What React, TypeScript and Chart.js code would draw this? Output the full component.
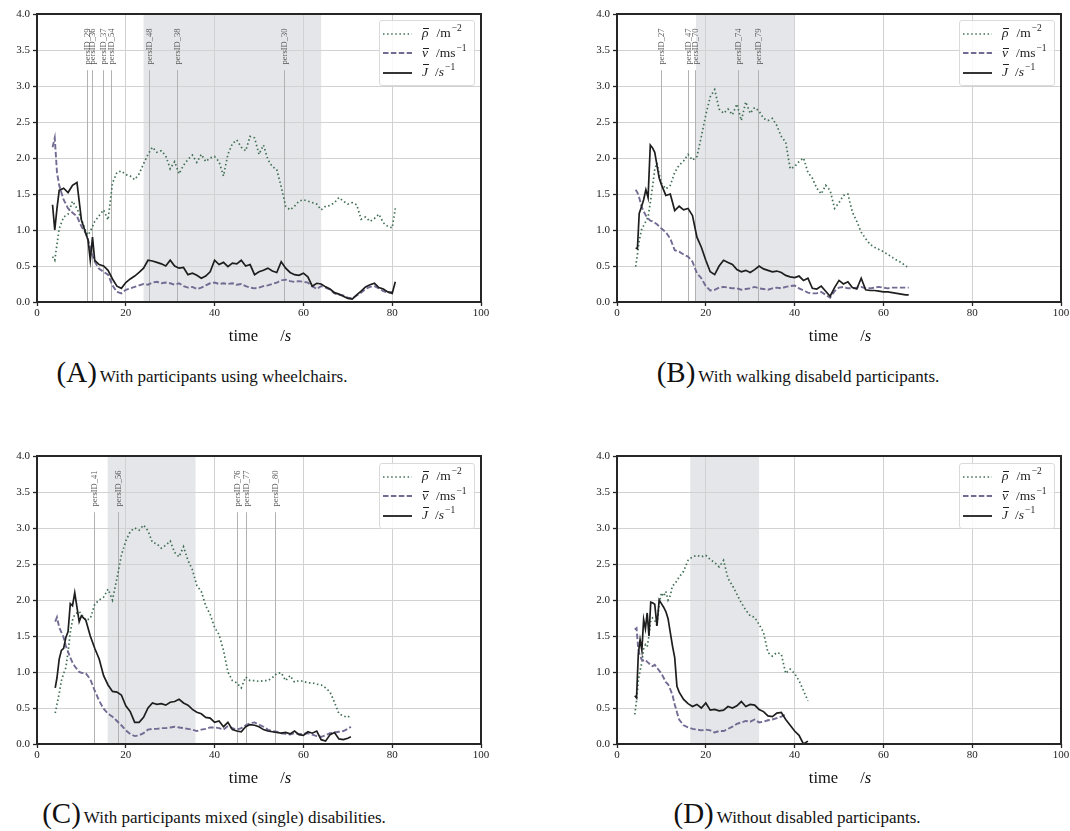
import React, { useEffect, useRef } from "react";
import Chart from "chart.js/auto";

// ---------- Panel A: participants using wheelchairs ----------
const timesA = [
  3.5, 4, 4.5, 5, 6, 7, 8, 9, 10, 11, 11.5, 12, 12.5,
  13, 14, 15, 16, 17, 18, 19, 20, 21, 22,
  23, 24, 25, 26, 27, 28, 29, 30, 31, 32,
  33, 34, 35, 36, 37, 38, 39, 40, 41, 42,
  43, 44, 45, 46, 47, 48, 49, 50, 51, 52,
  53, 54, 55, 56, 57, 58, 59, 60, 61, 62,
  63, 64, 65, 66, 67, 68, 69, 70, 71, 72,
  73, 74, 75, 76, 77, 78, 79, 80, 80.7,
];
const rhoA = [
  0.63, 0.58, 0.8, 1.02, 1.18, 1.22, 1.4, 1.3, 1.15, 0.98, 0.93, 0.98, 1.05,
  1.12, 1.2, 1.28, 1.14, 1.65, 1.8, 1.82, 1.77, 1.75, 1.7,
  1.78, 1.92, 2.05, 2.15, 2.08, 2.1, 2.03, 1.85, 1.95, 1.78,
  1.9, 1.98, 2.04, 1.94, 2.05, 1.95, 2.0, 2.02, 1.95, 1.75,
  2.05, 2.2, 2.25, 2.15, 2.1, 2.3, 2.28, 2.05, 2.18, 1.98,
  1.88, 1.84, 1.6, 1.33, 1.28, 1.33, 1.4, 1.42, 1.4, 1.38,
  1.36, 1.28, 1.33, 1.34, 1.38, 1.45, 1.4, 1.36, 1.38, 1.35,
  1.15, 1.18, 1.12, 1.16, 1.22, 1.1, 1.05, 1.03, 1.3,
];
const velA = [
  2.15, 2.28, 1.8, 1.62, 1.42, 1.3, 1.24, 1.19, 1.05, 0.95, 0.86, 0.75, 0.65,
  0.56, 0.46, 0.42, 0.38, 0.23, 0.14, 0.12, 0.17, 0.19, 0.21,
  0.23, 0.25, 0.24, 0.27, 0.28, 0.26, 0.27, 0.26, 0.24, 0.26,
  0.22, 0.2, 0.21, 0.18, 0.2, 0.23, 0.26, 0.27, 0.25, 0.26,
  0.25, 0.26, 0.24, 0.25, 0.22, 0.2, 0.19, 0.2, 0.22, 0.23,
  0.25, 0.27, 0.3, 0.31, 0.29, 0.28, 0.29, 0.28, 0.27, 0.22,
  0.18, 0.22, 0.2, 0.17, 0.12, 0.1, 0.09, 0.06, 0.05, 0.09,
  0.13, 0.18, 0.21, 0.22, 0.19, 0.15, 0.13, 0.14, null,
];
const fluxA = [
  1.35, 1.0, 1.3, 1.55, 1.58, 1.52, 1.62, 1.66, 1.14, 0.95, 0.86, 0.58, 0.9,
  0.58, 0.52, 0.5, 0.44, 0.32, 0.22, 0.19, 0.27, 0.32, 0.36,
  0.41, 0.47, 0.58, 0.57, 0.55, 0.53, 0.5, 0.58, 0.5, 0.47,
  0.48, 0.38, 0.4, 0.37, 0.33, 0.36, 0.42, 0.58, 0.52, 0.55,
  0.49, 0.54, 0.53, 0.58, 0.5, 0.52, 0.38, 0.42, 0.44, 0.47,
  0.43, 0.41, 0.56, 0.47, 0.41, 0.38, 0.37, 0.4, 0.35, 0.22,
  0.26, 0.25, 0.21, 0.18, 0.13, 0.11, 0.08, 0.05, 0.04, 0.1,
  0.15, 0.21, 0.24, 0.26, 0.2, 0.18, 0.14, 0.12, 0.28,
];
const shadeA = [24, 64];
const markTimesA = [11.2, 12.3, 14.8, 16.6, 25.3, 31.6, 55.7];
const markLabelsA = ["persID_29", "persID_36", "persID_37", "persID_54", "persID_48", "persID_38", "persID_30"];

// ---------- Panel B: walking disabled participants ----------
const timesB = [
  4.2, 4.6, 5, 5.5, 6, 6.5, 7, 7.5, 8, 8.5, 9, 9.5, 10,
  11, 12, 13, 14, 15, 16, 17, 18, 19, 20,
  21, 22, 23, 24, 25, 26, 27, 28, 29, 30,
  31, 32, 33, 34, 35, 36, 37, 38, 39, 40,
  41, 42, 43, 44, 45, 46, 47, 48, 49, 50,
  51, 52, 53, 54, 55, 56, 57, 58, 59, 60,
  61, 62, 63, 64, 65, 65.7,
];
const rhoB = [
  0.49, 0.66, 0.85, 1.0, 1.06, 1.12, 1.18, 1.38, 1.6, 1.84, 1.93, 1.78, 1.65,
  1.57, 1.62, 1.8, 1.9, 1.96, 2.05, 1.97, 2.02, 2.3, 2.6,
  2.85, 2.95, 2.68, 2.62, 2.68, 2.6, 2.75, 2.52, 2.78, 2.62,
  2.7, 2.65, 2.55, 2.52, 2.55, 2.45, 2.3, 2.22, 1.85, 1.88,
  1.95, 2.0, 1.8, 1.72, 1.58, 1.5, 1.62, 1.55, 1.3, 1.38,
  1.48, 1.5, 1.25, 1.12, 0.97, 0.88, 0.8, 0.76, 0.73, 0.7,
  0.66, 0.62, 0.58, 0.55, 0.5, 0.48,
];
const velB = [
  1.56, 1.52, 1.45, 1.33, 1.26, 1.2, 1.16, 1.13, 1.12, 1.1, 1.08, 1.05, 1.02,
  0.97, 0.88, 0.72, 0.7, 0.66, 0.63, 0.56, 0.4, 0.33, 0.22,
  0.16, 0.17, 0.2, 0.21, 0.2, 0.19, 0.19, 0.17, 0.18, 0.19,
  0.21, 0.19, 0.18, 0.17, 0.19, 0.2, 0.19, 0.21, 0.22, 0.23,
  0.19, 0.16, 0.13, 0.12, 0.12, 0.14, 0.1, 0.06, 0.15, 0.2,
  0.21, 0.19, 0.19, 0.2, 0.21, 0.19, 0.19, 0.2, 0.21, 0.2,
  0.19, 0.2, 0.2, 0.2, 0.2, 0.2,
];
const fluxB = [
  0.75, 0.74, 1.23, 1.32, 1.42, 1.56, 1.45, 2.18, 2.14, 2.08, 1.9, 1.72, 1.63,
  1.48, 1.5, 1.27, 1.33, 1.28, 1.3, 1.2, 0.9, 0.76, 0.58,
  0.42, 0.38, 0.5, 0.58, 0.55, 0.52, 0.45, 0.42, 0.44, 0.41,
  0.45, 0.5, 0.46, 0.44, 0.42, 0.43, 0.41, 0.37, 0.35, 0.34,
  0.36, 0.3, 0.33, 0.19, 0.18, 0.22, 0.15, 0.08, 0.2, 0.3,
  0.25, 0.28, 0.2, 0.18, 0.33, 0.17, 0.16, 0.16, 0.15, 0.14,
  0.14, 0.13, 0.12, 0.11, 0.1, 0.1,
];
const shadeB = [17.8, 40];
const markTimesB = [9.8, 16.1, 17.6, 27.3, 31.8];
const markLabelsB = ["persID_27", "persID_47", "persID_70", "persID_74", "persID_79"];

// ---------- Panel C: mixed (single) disabilities ----------
const timesC = [
  4.1, 4.5, 5, 5.5, 6, 6.5, 7, 7.5, 8, 8.5, 9, 9.5, 10,
  11, 12, 13, 14, 15, 16, 17, 18, 19, 20,
  21, 22, 23, 24, 25, 26, 27, 28, 29, 30,
  31, 32, 33, 34, 35, 36, 37, 38, 39, 40,
  41, 42, 43, 44, 45, 46, 47, 48, 49, 50,
  51, 52, 53, 54, 55, 56, 57, 58, 59, 60,
  61, 62, 63, 64, 65, 66, 67, 68, 69, 70, 70.7,
];
const rhoC = [
  0.43, 0.55, 0.7, 0.88, 0.98, 1.06, 1.28, 1.55, 1.72, 1.8, 1.82, 1.84, 1.8,
  1.72, 1.74, 1.94, 2.0, 2.04, 2.15, 2.0, 2.3, 2.62, 2.82,
  2.95, 3.0, 2.97, 3.04, 2.96, 2.8, 2.78, 2.72, 2.76, 2.82,
  2.66, 2.6, 2.74, 2.55, 2.42, 2.2, 2.12, 1.92, 1.8, 1.62,
  1.52, 1.3, 1.0, 0.88, 0.85, 0.78, 0.93, 0.88, 0.88, 0.87,
  0.88, 0.88, 0.92, 0.98, 0.99, 0.88, 0.95, 0.86, 0.88, 0.87,
  0.85, 0.85, 0.83, 0.82, 0.78, 0.72, 0.58, 0.42, 0.39, 0.37, 0.41,
];
const velC = [
  1.7, 1.76, 1.62, 1.55, 1.48, 1.36, 1.28, 1.2, 1.13, 1.08, 1.04, 1.0, 0.99,
  0.98, 0.9, 0.74, 0.6, 0.49, 0.42, 0.38, 0.32, 0.26, 0.19,
  0.14, 0.11, 0.12, 0.15, 0.2, 0.21, 0.21, 0.22, 0.22, 0.23,
  0.24, 0.23, 0.22, 0.21, 0.2, 0.18, 0.2, 0.21, 0.23, 0.23,
  0.22, 0.2, 0.25, 0.22, 0.2, 0.22, 0.26, 0.29, 0.3, 0.27,
  0.24, 0.2, 0.18, 0.17, 0.15, 0.14, 0.13, 0.15, 0.14, 0.14,
  0.15, 0.13, 0.11, 0.1, 0.12, 0.15, 0.16, 0.17, 0.18, 0.21, 0.24,
];
const fluxC = [
  0.78, 0.92, 1.18, 1.3, 1.33, 1.48, 1.56, 1.95, 1.92, 2.1, 1.9, 1.7, 1.78,
  1.72, 1.5, 1.33, 1.18, 0.95, 0.82, 0.73, 0.72, 0.68, 0.53,
  0.45, 0.3, 0.3, 0.37, 0.5, 0.57, 0.55, 0.56, 0.54, 0.58,
  0.59, 0.62, 0.57, 0.54, 0.48, 0.44, 0.42, 0.37, 0.36, 0.3,
  0.32, 0.24, 0.3, 0.2, 0.18, 0.17, 0.24, 0.27, 0.26, 0.24,
  0.2, 0.18, 0.17, 0.16, 0.15, 0.16, 0.14, 0.18, 0.13, 0.12,
  0.17, 0.15, 0.18, 0.06, 0.04, 0.13, 0.16, 0.07, 0.06, 0.08, 0.1,
];
const shadeC = [15.9, 35.7];
const markTimesC = [12.9, 18.3, 45.1, 47.1, 53.7];
const markLabelsC = ["persID_41", "persID_56", "persID_76", "persID_77", "persID_80"];

// ---------- Panel D: without disabled participants ----------
const timesD = [
  4, 4.4, 4.8, 5.2, 5.6, 6, 6.4, 6.8, 7.2, 7.6, 8,
  8.5, 9, 9.5, 10, 10.5, 11, 11.5, 12, 12.5, 13, 13.5, 14,
  15, 16, 17, 18, 19, 20, 21, 22, 23, 24,
  25, 26, 27, 28, 29, 30, 31, 32, 33, 34,
  35, 36, 37, 38, 39, 40, 41, 42, 43,
];
const rhoD = [
  0.41, 0.6, 0.88, 1.02, 1.13, 1.32, 1.38, 1.35, 1.5, 1.72, 1.75,
  1.72, 1.64, 1.95, 2.1, 2.05, 2.12, 2.0, 2.06, 2.2, 2.22, 2.27, 2.32,
  2.4, 2.55, 2.6, 2.62, 2.6, 2.62, 2.56, 2.52, 2.46, 2.55,
  2.3, 2.2, 2.08, 1.96, 1.86, 1.78, 1.76, 1.66, 1.55, 1.27,
  1.22, 1.27, 1.25, 0.98, 1.04, 0.98, 0.88, 0.74, 0.6,
];
const velD = [
  1.59, 1.61, 1.31, 1.22, 1.17, 1.16, 1.17, 1.14, 1.12, 1.09, 1.08,
  1.1, 1.06, 1.02, 0.98, 0.92, 0.86, 0.83, 0.76, 0.68, 0.55, 0.44, 0.34,
  0.26, 0.23, 0.21, 0.2, 0.19, 0.2, 0.19, 0.16, 0.18, 0.18,
  0.21, 0.24, 0.28, 0.3, 0.32, 0.31, 0.34, 0.3, 0.31, 0.33,
  0.34, 0.36, 0.38, 0.41, null, null, null, null, null,
];
const fluxD = [
  0.67, 0.64, 1.25, 1.45, 1.3, 1.73, 1.6, 1.82, 1.5, 1.97, 1.96,
  1.94, 1.64, 2.0, 1.95, 1.9, 1.84, 1.74, 1.55, 1.36, 1.2, 0.8, 0.72,
  0.62, 0.56, 0.52, 0.55, 0.5, 0.57, 0.47, 0.48, 0.46, 0.47,
  0.52, 0.5, 0.53, 0.59, 0.52, 0.55, 0.54, 0.48, 0.45, 0.39,
  0.38, 0.43, 0.44, 0.34, 0.26, 0.18, 0.12, 0.0, 0.04,
];
const shadeD = [16.5, 32];
const markTimesD: number[] = [];
const markLabelsD: string[] = [];

// Axis ticks
const xTickStep = 20;
const yTickStep = 0.5;
const xRange = [0, 100];
const yRange = [0, 4];

const SERIF = '"Liberation Serif", "DejaVu Serif", serif';
const RHO_COLOR = "#3f6f54";
const V_COLOR = "#736b93";
const J_COLOR = "#1e1e1e";
const GRID = "#d2d2d2";

const CANVAS_W = 482;
const CANVAS_H = 330;

type Vals = (number | null)[];

function toPoints(times: number[], vals: Vals) {
  return times.map((t, i) => ({ x: t, y: vals[i] }));
}

type PanelProps = {
  left: number;
  top: number;
  times: number[];
  rho: Vals;
  vel: Vals;
  flux: Vals;
  shade: number[];
  markTimes: number[];
  markLabels: string[];
};

function PanelChart(p: PanelProps) {
  const ref = useRef<HTMLCanvasElement>(null);

  useEffect(() => {
    if (!ref.current) return;

    const decor = {
      id: "panelDecor",
      beforeDraw(chart: any) {
        const { ctx, chartArea: a, scales } = chart;
        const x0 = scales.x.getPixelForValue(p.shade[0]);
        const x1 = scales.x.getPixelForValue(p.shade[1]);
        ctx.save();
        ctx.fillStyle = "#e5e6e9";
        ctx.fillRect(x0, a.top, x1 - x0, a.bottom - a.top);
        ctx.restore();
      },
      beforeDatasetsDraw(chart: any) {
        const { ctx, chartArea: a, scales } = chart;
        const xs = scales.x;
        const ys = scales.y;
        ctx.save();
        ctx.strokeStyle = "#b2b2b2";
        ctx.lineWidth = 1;
        ctx.fillStyle = "#555";
        ctx.font = `8.5px ${SERIF}`;
        p.markTimes.forEach((t, i) => {
          const px = Math.round(xs.getPixelForValue(t)) + 0.5;
          ctx.beginPath();
          ctx.moveTo(px, ys.getPixelForValue(3.22));
          ctx.lineTo(px, a.bottom);
          ctx.stroke();
          ctx.save();
          ctx.translate(px, ys.getPixelForValue(3.3));
          ctx.rotate(-Math.PI / 2);
          ctx.textAlign = "left";
          ctx.textBaseline = "middle";
          ctx.fillText(p.markLabels[i], 0, 0);
          ctx.restore();
        });
        ctx.restore();
      },
      afterDatasetsDraw(chart: any) {
        const { ctx, chartArea: a } = chart;
        ctx.save();
        ctx.strokeStyle = "#262626";
        ctx.lineWidth = 2;
        ctx.strokeRect(a.left, a.top, a.right - a.left, a.bottom - a.top);
        ctx.restore();
      },
    };

    const tickFont = { family: SERIF, size: 11 };

    const chart = new Chart(ref.current, {
      type: "line",
      data: {
        datasets: [
          {
            label: "rho",
            data: toPoints(p.times, p.rho),
            borderColor: RHO_COLOR,
            borderWidth: 1.7,
            borderDash: [1.5, 2.6],
            borderCapStyle: "butt",
            pointRadius: 0,
            tension: 0,
            order: 3,
          },
          {
            label: "v",
            data: toPoints(p.times, p.vel),
            borderColor: V_COLOR,
            borderWidth: 1.9,
            borderDash: [5.5, 2.4],
            pointRadius: 0,
            tension: 0,
            order: 2,
          },
          {
            label: "J",
            data: toPoints(p.times, p.flux),
            borderColor: J_COLOR,
            borderWidth: 1.7,
            pointRadius: 0,
            tension: 0,
            order: 1,
          },
        ],
      },
      options: {
        animation: false,
        responsive: false,
        maintainAspectRatio: false,
        layout: { padding: { top: 6, right: 9, left: 0, bottom: 0 } },
        plugins: {
          legend: { display: false },
          tooltip: { enabled: false },
        },
        scales: {
          x: {
            type: "linear",
            min: xRange[0],
            max: xRange[1],
            ticks: {
              stepSize: xTickStep,
              font: tickFont,
              color: "#222",
              padding: 1,
              maxRotation: 0,
            },
            grid: {
              color: GRID,
              lineWidth: 1,
              drawTicks: true,
              tickLength: 4,
              tickColor: "#262626",
              tickWidth: 1.3,
            },
            border: { display: false },
            afterFit: (s: any) => {
              s.height = 36;
              s.paddingLeft = 0;
              s.paddingRight = 0;
            },
          },
          y: {
            min: yRange[0],
            max: yRange[1],
            ticks: {
              stepSize: yTickStep,
              font: tickFont,
              color: "#222",
              padding: 3,
              callback: (v: any) => Number(v).toFixed(1),
            },
            grid: {
              color: GRID,
              lineWidth: 1,
              drawTicks: true,
              tickLength: 4,
              tickColor: "#262626",
              tickWidth: 1.3,
            },
            border: { display: false },
            afterFit: (s: any) => {
              s.width = 29;
              s.paddingTop = 0;
              s.paddingBottom = 0;
            },
          },
        },
      },
      plugins: [decor],
    } as any);

    return () => chart.destroy();
  }, []);

  return (
    <canvas
      ref={ref}
      width={CANVAS_W}
      height={CANVAS_H}
      style={{ position: "absolute", left: p.left, top: p.top, width: CANVAS_W, height: CANVAS_H }}
    />
  );
}

const supStyle: React.CSSProperties = { fontSize: 9.5, position: "relative", top: -6, marginLeft: 1 };

// Italic symbol with a mean bar drawn above it
function Barred({ ch, barTop, barLeft }: { ch: string; barTop: number; barLeft: number }) {
  return (
    <span style={{ position: "relative", display: "inline-block" }}>
      <i>{ch}</i>
      <span
        style={{
          position: "absolute",
          left: barLeft,
          right: -1,
          top: barTop,
          height: 0,
          borderTop: "1px solid #222",
        }}
      />
    </span>
  );
}

function Legend({ left, top }: { left: number; top: number }) {
  const rows = [
    {
      color: RHO_COLOR,
      width: 1.7,
      dash: "1.5 2.6",
      label: (
        <>
          <Barred ch="ρ" barTop={3} barLeft={1} />
          <span style={{ marginLeft: 8 }}>/m</span>
          <span style={supStyle}>−2</span>
        </>
      ),
    },
    {
      color: V_COLOR,
      width: 2,
      dash: "5.5 2.4",
      label: (
        <>
          <Barred ch="v" barTop={3} barLeft={1} />
          <span style={{ marginLeft: 8 }}>/ms</span>
          <span style={supStyle}>−1</span>
        </>
      ),
    },
    {
      color: J_COLOR,
      width: 1.8,
      dash: "",
      label: (
        <>
          <Barred ch="J" barTop={0} barLeft={1} />
          <span style={{ marginLeft: 7 }}>
            /<i>s</i>
          </span>
          <span style={supStyle}>−1</span>
        </>
      ),
    },
  ];
  return (
    <div
      style={{
        position: "absolute",
        left,
        top,
        width: 96,
        height: 66,
        boxSizing: "border-box",
        border: "1px solid #dadada",
        borderRadius: 3,
        background: "rgba(255,255,255,0.85)",
        fontFamily: SERIF,
        fontSize: 13.5,
        color: "#222",
      }}
    >
      {rows.map((r, i) => (
        <div
          key={i}
          style={{
            position: "absolute",
            left: 3,
            top: 4 + i * 19.5,
            height: 17,
            lineHeight: "15px",
            display: "flex",
            alignItems: "center",
            whiteSpace: "pre",
          }}
        >
          <svg width={29} height={6} style={{ display: "block" }}>
            <line
              x1={0}
              y1={3}
              x2={29}
              y2={3}
              stroke={r.color}
              strokeWidth={r.width}
              strokeDasharray={r.dash || undefined}
            />
          </svg>
          <span style={{ marginLeft: 10 }}>{r.label}</span>
        </div>
      ))}
    </div>
  );
}

function TimeLabel({ cx, cy }: { cx: number; cy: number }) {
  return (
    <div
      style={{
        position: "absolute",
        left: cx - 70,
        top: cy - 10,
        width: 140,
        height: 20,
        lineHeight: "20px",
        textAlign: "center",
        fontFamily: SERIF,
        fontSize: 16.5,
        color: "#111",
        whiteSpace: "pre",
      }}
    >
      time
      <span style={{ marginLeft: 22 }}>
        /<i>s</i>
      </span>
    </div>
  );
}

function Caption({ cx, top, tag, text }: { cx: number; top: number; tag: string; text: string }) {
  return (
    <div
      style={{
        position: "absolute",
        left: cx,
        top,
        height: 34,
        transform: "translateX(-50%)",
        display: "flex",
        alignItems: "baseline",
        fontFamily: SERIF,
        color: "#111",
        whiteSpace: "nowrap",
      }}
    >
      <span style={{ fontSize: 29, lineHeight: "34px" }}>({tag})</span>
      <span style={{ fontSize: 17, marginLeft: 3 }}>{text}</span>
    </div>
  );
}

export default function App() {
  return (
    <div
      style={{
        position: "fixed",
        left: 0,
        top: 0,
        width: 1070,
        height: 831,
        overflow: "hidden",
        background: "#fff",
      }}
    >
      <PanelChart left={8} top={8} times={timesA} rho={rhoA} vel={velA} flux={fluxA} shade={shadeA} markTimes={markTimesA} markLabels={markLabelsA} />
      <PanelChart left={588} top={8} times={timesB} rho={rhoB} vel={velB} flux={fluxB} shade={shadeB} markTimes={markTimesB} markLabels={markLabelsB} />
      <PanelChart left={8} top={450} times={timesC} rho={rhoC} vel={velC} flux={fluxC} shade={shadeC} markTimes={markTimesC} markLabels={markLabelsC} />
      <PanelChart left={588} top={450} times={timesD} rho={rhoD} vel={velD} flux={fluxD} shade={shadeD} markTimes={markTimesD} markLabels={markLabelsD} />

      <Legend left={379} top={20} />
      <Legend left={959} top={20} />
      <Legend left={379} top={463} />
      <Legend left={959} top={463} />

      <TimeLabel cx={260} cy={336} />
      <TimeLabel cx={840} cy={336} />
      <TimeLabel cx={260} cy={778} />
      <TimeLabel cx={840} cy={778} />

      <Caption cx={202} top={355} tag="A" text="With participants using wheelchairs." />
      <Caption cx={798} top={355} tag="B" text="With walking disabeld participants." />
      <Caption cx={214} top={796} tag="C" text="With participants mixed (single) disabilities." />
      <Caption cx={797} top={796} tag="D" text="Without disabled participants." />
    </div>
  );
}
